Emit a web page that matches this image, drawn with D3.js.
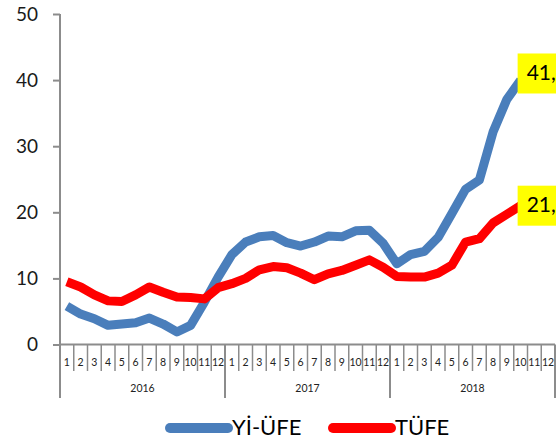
<!DOCTYPE html>
<html><head><meta charset="utf-8">
<script src="https://cdn.jsdelivr.net/npm/d3@7"></script>
<style>
html,body{margin:0;padding:0;background:#fff;}
svg{display:block;font-family:Lato,"Open Sans",sans-serif;}
</style></head>
<body>
<svg id="chart" width="556" height="443"></svg>
<script>
const years = ["2016", "2017", "2018"];
const monthLabels = ["1","2","3","4","5","6","7","8","9","10","11","12"];
const yTicks = [0, 10, 20, 30, 40, 50];
const seriesNames = ["Yİ-ÜFE", "TÜFE"];
const yiufe = [5.8, 4.6, 3.9, 2.9, 3.1, 3.3, 4.0, 3.1, 1.9, 2.9, 6.4, 10.2,
               13.6, 15.5, 16.3, 16.5, 15.4, 14.9, 15.5, 16.4, 16.3, 17.2, 17.3, 15.3,
               12.2, 13.6, 14.1, 16.2, 19.8, 23.5, 24.9, 32.2, 37.1, 40.0];
const tufe = [9.5, 8.7, 7.5, 6.6, 6.5, 7.5, 8.7, 7.9, 7.2, 7.1, 6.9, 8.6,
              9.2, 10.0, 11.3, 11.8, 11.6, 10.8, 9.8, 10.7, 11.2, 12.0, 12.8, 11.7,
              10.3, 10.2, 10.2, 10.8, 12.0, 15.5, 16.0, 18.4, 19.7, 21.0];
const labelTexts = ["41,", "21,"];
const labelValues = [41, 21];
const colors = ["#4a7ebb", "#ff0000"];

const svg = d3.select("#chart");
const mLeft = 60, mRight = 555, mTop = 14, mBottom = 344.5;
const cats = [];
years.forEach(yr => monthLabels.forEach(m => cats.push(yr + "-" + m)));
const x = d3.scaleBand().domain(cats).range([mLeft, mRight]);
const y = d3.scaleLinear().domain([0, 50]).range([mBottom, mTop]);
const axisColor = "#8c8c8c";

// Y axis
const yAxis = svg.append("g").attr("transform", `translate(${mLeft},0)`)
  .call(d3.axisLeft(y).tickValues(yTicks).tickSize(7).tickPadding(15).tickFormat(d3.format("d")));
yAxis.select(".domain").attr("stroke", axisColor).attr("stroke-width", 2).attr("d", `M0,${mTop}V${mBottom}`);
yAxis.selectAll(".tick line").attr("stroke", axisColor).attr("stroke-width", 2);
yAxis.selectAll(".tick text").attr("font-size", 19).attr("fill", "#1a1a1a")
  .attr("font-family", "Lato, sans-serif");

// X axis (custom multi-level)
const xg = svg.append("g");
xg.append("line").attr("x1", mLeft).attr("x2", mRight).attr("y1", mBottom).attr("y2", mBottom)
  .attr("stroke", axisColor).attr("stroke-width", 2);
cats.forEach((c, i) => {
  const xb = x(c);
  const isYear = i % 12 === 0;
  xg.append("line").attr("x1", xb).attr("x2", xb).attr("y1", mBottom)
    .attr("y2", isYear ? 398 : 371).attr("stroke", axisColor).attr("stroke-width", isYear ? 2 : 1.5);
  xg.append("text").attr("x", xb + x.bandwidth() / 2).attr("y", 363)
    .attr("text-anchor", "middle").attr("dominant-baseline", "middle")
    .attr("font-size", 10.5).attr("fill", "#222").text(monthLabels[i % 12]);
});
xg.append("line").attr("x1", mRight).attr("x2", mRight).attr("y1", mBottom).attr("y2", 398)
  .attr("stroke", axisColor).attr("stroke-width", 2);
years.forEach(yr => {
  const x0 = x(yr + "-1"), x1 = x(yr + "-12") + x.bandwidth();
  xg.append("text").attr("x", (x0 + x1) / 2).attr("y", 389)
    .attr("text-anchor", "middle").attr("dominant-baseline", "middle")
    .attr("font-size", 10.5).attr("fill", "#222").text(yr);
});

// Lines
const line = d3.line().x((d, i) => x(cats[i]) + x.bandwidth() / 2).y(d => y(d));
[yiufe, tufe].forEach((s, k) => {
  svg.append("path").datum(s).attr("d", line).attr("fill", "none")
    .attr("stroke", colors[k]).attr("stroke-width", 9)
    .attr("stroke-linejoin", "round").attr("stroke-linecap", "butt");
});

// Data labels
[yiufe, tufe].forEach((s, k) => {
  const i = s.length - 1;
  const px = x(cats[i]) + x.bandwidth() / 2 - 3;
  const py = y(labelValues[k]);
  const g = svg.append("g");
  g.append("rect").attr("x", px).attr("y", py - 20).attr("width", 80).attr("height", 40)
    .attr("fill", "#ffff00");
  g.append("text").attr("x", px + 9).attr("y", py + 1).attr("dominant-baseline", "middle")
    .attr("font-size", 21).attr("fill", "#000").text(labelTexts[k]);
});

// Legend
const legend = svg.append("g");
const legX = [170, 333];
seriesNames.forEach((n, k) => {
  legend.append("line").attr("x1", legX[k]).attr("x2", legX[k] + 58)
    .attr("y1", 428).attr("y2", 428).attr("stroke", colors[k])
    .attr("stroke-width", 10).attr("stroke-linecap", "round");
  legend.append("text").attr("x", legX[k] + 62).attr("y", 429)
    .attr("dominant-baseline", "middle").attr("font-size", 22).attr("fill", "#000").text(n);
});
</script>
</body></html>
